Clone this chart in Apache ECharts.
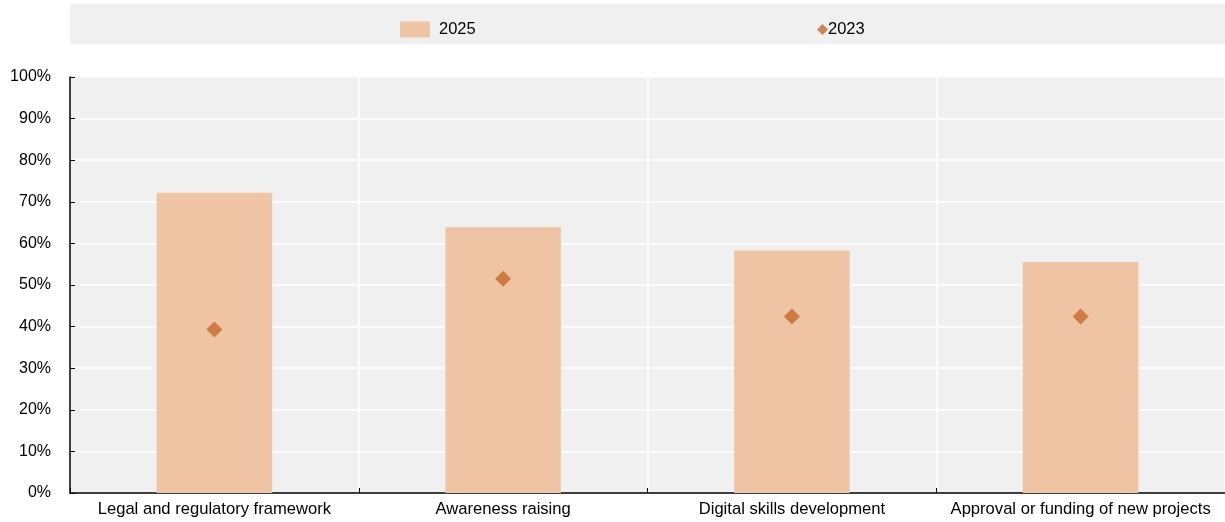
<!DOCTYPE html>
<html>
<head>
<meta charset="utf-8">
<script src="https://cdn.jsdelivr.net/npm/echarts@6/dist/echarts.min.js"></script>
<style>
  html, body { margin: 0; padding: 0; background: #fff; }
  #chart { width: 1225px; height: 522px; }
</style>
</head>
<body>
<div id="chart"></div>
<script>
// Share of respondents by area (per cent)
const categories = [
  'Legal and regulatory framework',
  'Awareness raising',
  'Digital skills development',
  'Approval or funding of new projects'
];
const values2025 = [72.2, 63.9, 58.3, 55.5];
const values2023 = [39.3, 51.5, 42.4, 42.4];
const yTicks = [0, 10, 20, 30, 40, 50, 60, 70, 80, 90, 100];

const FONT = '"Liberation Sans", Arial, sans-serif';
const BAR = '#EEC4A5';
const DOT = '#C8692A';

const chart = echarts.init(document.getElementById('chart'), null, { renderer: 'canvas' });

chart.setOption({
  animation: false,
  backgroundColor: '#ffffff',
  textStyle: { fontFamily: FONT },
  graphic: [{
    type: 'rect',
    z: -10,
    shape: { x: 70, y: 4, width: 1155, height: 40 },
    style: { fill: '#F0F0F0' }
  }],
  legend: [{
    data: [{ name: '2025', icon: 'rect' }],
    left: 395,
    top: 16,
    itemWidth: 30,
    itemHeight: 16,
    itemGap: 10,
    textStyle: { fontFamily: FONT, fontSize: 16.5, color: '#000', padding: [0, 0, 0, 4] }
  }, {
    data: [{ name: '2023', icon: 'diamond' }],
    left: 812,
    top: 16,
    itemWidth: 11,
    itemHeight: 11,
    textStyle: { fontFamily: FONT, fontSize: 16.5, color: '#000', padding: [0, 0, 0, -5] }
  }],
  grid: {
    left: 70,
    right: 0,
    top: 77,
    bottom: 29,
    show: true,
    backgroundColor: '#F0F0F0',
    borderWidth: 0,
    containLabel: false
  },
  xAxis: {
    type: 'category',
    data: categories,
    boundaryGap: true,
    axisLine: { show: true, lineStyle: { color: '#000', width: 1.5 } },
    axisTick: { show: true, inside: true, length: 5, lineStyle: { color: '#000', width: 1 } },
    splitLine: { show: true, lineStyle: { color: '#ffffff', width: 1.5 } },
    axisLabel: { fontFamily: FONT, fontSize: 16.6, color: '#000', margin: 8, interval: 0 }
  },
  yAxis: {
    type: 'value',
    min: yTicks[0],
    max: yTicks[yTicks.length - 1],
    interval: 10,
    axisLine: { show: true, lineStyle: { color: '#000', width: 1.5 } },
    axisTick: { show: true, inside: true, length: 5, lineStyle: { color: '#000', width: 1 } },
    splitLine: { show: true, lineStyle: { color: '#ffffff', width: 1.5 } },
    axisLabel: { fontFamily: FONT, fontSize: 16, color: '#000', margin: 19, formatter: '{value}%' }
  },
  series: [{
    name: '2025',
    type: 'bar',
    data: values2025,
    barWidth: '40%',
    itemStyle: { color: BAR },
    z: 2
  }, {
    name: '2023',
    type: 'scatter',
    data: values2023,
    symbol: 'diamond',
    symbolSize: 16,
    itemStyle: { color: DOT },
    z: 3
  }]
});
</script>
</body>
</html>
